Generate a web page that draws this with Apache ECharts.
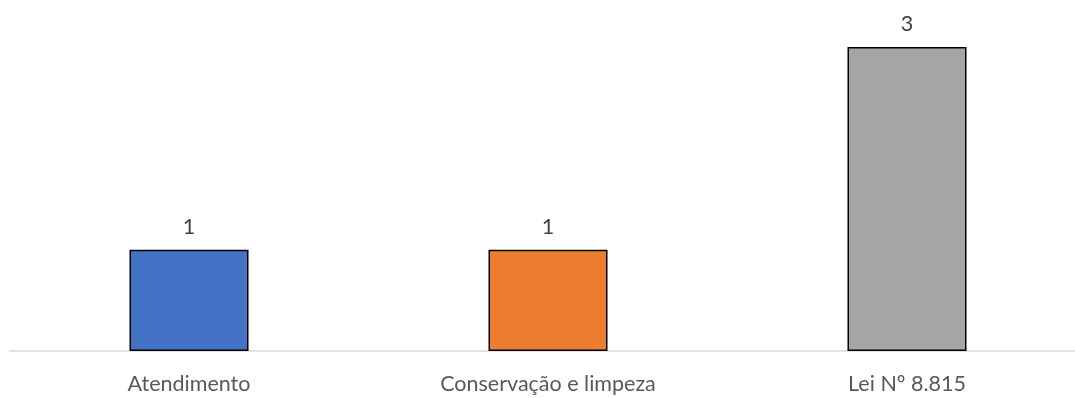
<!DOCTYPE html>
<html><head><meta charset="utf-8">
<script src="https://cdn.jsdelivr.net/npm/echarts@6/dist/echarts.min.js"></script>
<style>html,body{margin:0;padding:0;background:#fff}#c{width:1075px;height:398px}</style>
</head><body><div id="c"></div>
<script>
const categories = ["Atendimento", "Conservação e limpeza", "Lei Nº 8.815"];
const values = [1, 1, 3];
const colors = ["#4472C4", "#ED7D31", "#A5A5A5"];

const chart = echarts.init(document.getElementById('c'), null, {renderer: 'canvas'});
chart.setOption({
  animation: false,
  grid: {left: 9.5, top: 47, right: -11.5, bottom: 47, containLabel: false, outerBoundsMode: 'none'},
  xAxis: {
    type: 'category', data: categories,
    axisLine: {lineStyle: {color: '#D9D9D9', width: 1.5}},
    axisTick: {show: false},
    axisLabel: {color: '#595959', fontFamily: 'Lato', fontSize: 21.5, margin: 22}
  },
  yAxis: {type: 'value', min: 0, max: 3, show: false, splitLine: {show: false}},
  series: [{
    type: 'bar', barWidth: 119,
    data: values.map((v, i) => ({value: v, itemStyle: {color: colors[i]}})),
    itemStyle: {borderColor: '#000', borderWidth: 1.5},
    label: {show: true, position: 'top', distance: 12, color: '#404040', fontFamily: 'Lato', fontSize: 21.5}
  }]
});
</script></body></html>
